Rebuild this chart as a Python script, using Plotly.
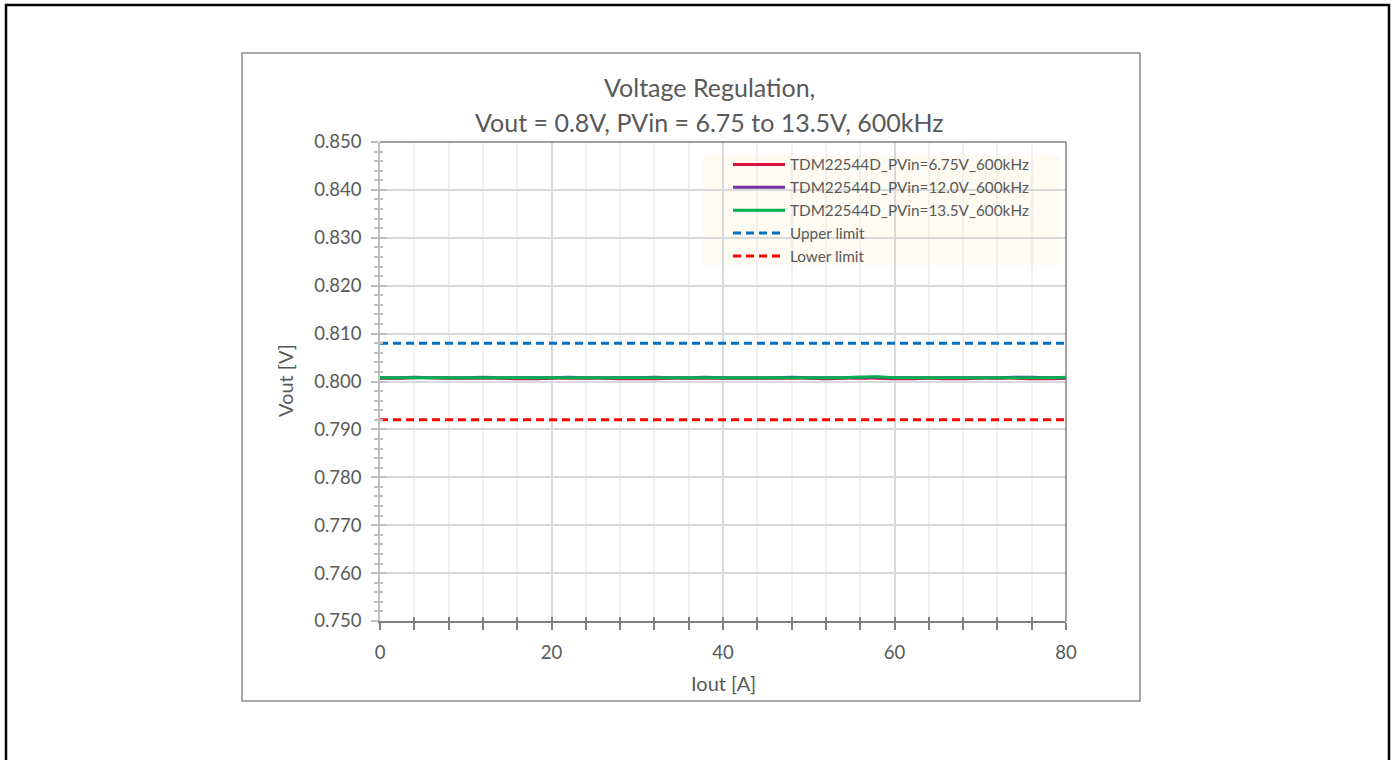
import plotly.graph_objects as go

W, H = 1394, 760

iout = list(range(0, 82, 2))
v_675 = [0.8007, 0.8007, 0.8008, 0.8008, 0.8007, 0.8007, 0.8007, 0.8007, 0.8006, 0.8006,
         0.8007, 0.8007, 0.8007, 0.8007, 0.8006, 0.8006, 0.8006, 0.8007, 0.8007, 0.8007,
         0.8007, 0.8007, 0.8007, 0.8007, 0.8007, 0.8007, 0.8006, 0.8007, 0.8007, 0.8007,
         0.8006, 0.8006, 0.8007, 0.8006, 0.8006, 0.8007, 0.8007, 0.8007, 0.8006, 0.8006,
         0.8007]
v_120 = [0.8008, 0.8008, 0.8009, 0.8008, 0.8008, 0.8008, 0.8009, 0.8008, 0.8008, 0.8008,
         0.8008, 0.8009, 0.8008, 0.8008, 0.8008, 0.8008, 0.8009, 0.8008, 0.8008, 0.8009,
         0.8008, 0.8008, 0.8008, 0.8008, 0.8009, 0.8008, 0.8008, 0.8008, 0.8009, 0.8009,
         0.8008, 0.8008, 0.8008, 0.8008, 0.8008, 0.8008, 0.8008, 0.8009, 0.8009, 0.8008,
         0.8008]
v_135 = [0.8008, 0.8008, 0.8008, 0.8008, 0.8008, 0.8008, 0.8008, 0.8008, 0.8008, 0.8008,
         0.8008, 0.8008, 0.8008, 0.8008, 0.8008, 0.8008, 0.8008, 0.8008, 0.8008, 0.8008,
         0.8008, 0.8008, 0.8008, 0.8008, 0.8008, 0.8008, 0.8008, 0.8008, 0.8009, 0.8010,
         0.8008, 0.8008, 0.8008, 0.8008, 0.8008, 0.8008, 0.8008, 0.8008, 0.8008, 0.8008,
         0.8009]
limit_x = [0, 80]
upper_limit = [0.808, 0.808]
lower_limit = [0.792, 0.792]

names = ["TDM22544D_PVin=6.75V_600kHz", "TDM22544D_PVin=12.0V_600kHz",
         "TDM22544D_PVin=13.5V_600kHz", "Upper limit", "Lower limit"]
colors = ["#D9123F", "#7030A0", "#00B050", "#0070C0", "#FF0000"]
title_lines = ["Voltage Regulation,", "Vout = 0.8V, PVin = 6.75 to 13.5V, 600kHz"]

FONT = "Lato"
TXT = "#595959"


def px(x):
    return x / W


def py(y):
    return 1 - y / H


fig = go.Figure()
for vals, nm, c in zip([v_675, v_120, v_135], names[:3], colors[:3]):
    fig.add_trace(go.Scatter(x=iout, y=vals, name=nm, mode="lines",
                             line=dict(color=c, width=3, shape="spline")))
fig.add_trace(go.Scatter(x=limit_x, y=upper_limit, name=names[3], mode="lines",
                         line=dict(color=colors[3], width=3, dash="8px,5px")))
fig.add_trace(go.Scatter(x=limit_x, y=lower_limit, name=names[4], mode="lines",
                         line=dict(color=colors[4], width=3, dash="8px,5px")))
# helper trace for overlay axes (inside tick marks)
fig.add_trace(go.Scatter(x=[None], y=[None], xaxis="x2", yaxis="y2",
                         showlegend=False, hoverinfo="skip"))

xd = [px(380), px(1066)]
yd = [py(621), py(142)]

fig.update_layout(
    width=W, height=H,
    margin=dict(l=0, r=0, t=0, b=0, pad=0, autoexpand=False),
    paper_bgcolor="white", plot_bgcolor="white",
    font=dict(family=FONT, color=TXT, size=18),
    showlegend=True,
    legend=dict(x=px(728), y=py(148), xanchor="left", yanchor="top",
                bgcolor="rgba(0,0,0,0)", font=dict(size=15.3, color=TXT, family=FONT),
                borderwidth=0, tracegroupgap=0, itemwidth=52),
    xaxis=dict(domain=xd, range=[0, 80], dtick=20, tick0=0, automargin=False,
               showgrid=True, gridcolor="#D9D9D9", gridwidth=1.5,
               showline=True, linecolor="#808080", linewidth=2,
               ticks="outside", ticklen=7, tickcolor="#808080", tickwidth=1.5,
               minor=dict(dtick=4, showgrid=True, gridcolor="#F0F0F0", gridwidth=1.5,
                          ticks="outside", ticklen=7, tickcolor="#808080", tickwidth=1.5),
               tickfont=dict(size=18.5, color=TXT), ticklabelstandoff=7,
               zeroline=False, fixedrange=True),
    yaxis=dict(domain=yd, range=[0.75, 0.85], dtick=0.01, tick0=0.75, automargin=False,
               tickformat=".3f",
               showgrid=True, gridcolor="#D9D9D9", gridwidth=1.5,
               showline=True, linecolor="#BFBFBF", linewidth=1.5,
               ticks="outside", ticklen=7, tickcolor="#BFBFBF", tickwidth=1.5,
               minor=dict(dtick=0.002, showgrid=False,
                          ticks="outside", ticklen=4, tickcolor="#BFBFBF", tickwidth=1.5),
               tickfont=dict(size=18.5, color=TXT), ticklabelstandoff=6,
               zeroline=False, fixedrange=True),
    xaxis2=dict(overlaying="x", matches="x", anchor="y2", side="bottom", automargin=False,
                range=[0, 80], dtick=4, tick0=0, showgrid=False, showline=False,
                ticks="inside", ticklen=4, tickcolor="#808080", tickwidth=1.5,
                showticklabels=False, zeroline=False),
    yaxis2=dict(overlaying="y", matches="y", anchor="x2", side="left", automargin=False,
                range=[0.75, 0.85], dtick=0.01, tick0=0.75, showgrid=False, showline=False,
                ticks="inside", ticklen=7, tickcolor="#BFBFBF", tickwidth=1.5,
                minor=dict(dtick=0.002, ticks="inside", ticklen=3,
                           tickcolor="#BFBFBF", tickwidth=1.5),
                showticklabels=False, zeroline=False),
)

shapes = [
    # outer black frame
    dict(type="rect", xref="paper", yref="paper", x0=px(6), x1=px(1389),
         y0=-0.05, y1=py(5), line=dict(color="black", width=2.5), layer="below"),
    # chart area box
    dict(type="rect", xref="paper", yref="paper", x0=px(242), x1=px(1140),
         y0=py(701), y1=py(53), line=dict(color="#8C8C8C", width=1.5), layer="below"),
    # legend background box
    dict(type="rect", xref="paper", yref="paper", x0=px(703), x1=px(1060),
         y0=py(265), y1=py(155), line=dict(width=0), fillcolor="#FEFBF3", layer="below"),
    # plot top & right border
    dict(type="line", xref="paper", yref="paper", x0=xd[0], x1=xd[1], y0=yd[1], y1=yd[1],
         line=dict(color="#808080", width=1.5)),
    dict(type="line", xref="paper", yref="paper", x0=xd[1], x1=xd[1], y0=yd[0], y1=yd[1],
         line=dict(color="#808080", width=1.5)),
]
fig.update_layout(shapes=shapes)

for txt, yy in zip(title_lines, [87, 122]):
    fig.add_annotation(text=txt, xref="paper", yref="paper", x=px(710), y=py(yy),
                       xanchor="center", yanchor="middle", showarrow=False,
                       font=dict(size=25, color=TXT, family=FONT))
fig.add_annotation(text="Vout [V]", xref="paper", yref="paper", x=px(285), y=py(381),
                   textangle=-90, xanchor="center", yanchor="middle", showarrow=False,
                   font=dict(size=20, color=TXT, family=FONT))
fig.add_annotation(text="Iout [A]", xref="paper", yref="paper", x=px(723), y=py(683),
                   xanchor="center", yanchor="middle", showarrow=False,
                   font=dict(size=20, color=TXT, family=FONT))

fig.write_html("out.html")
